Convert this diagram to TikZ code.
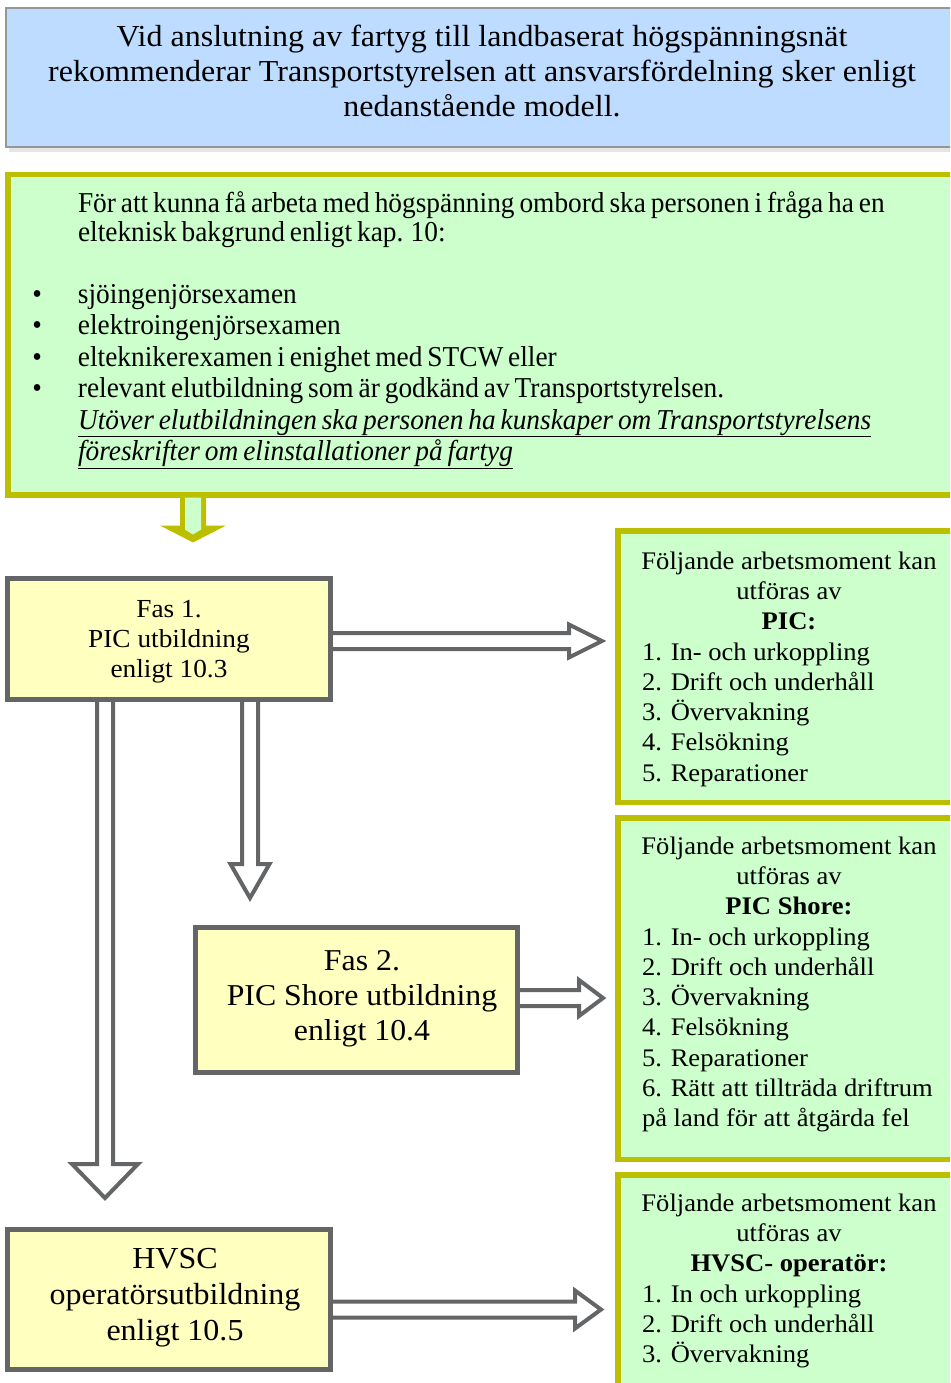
\documentclass[tikz,border=0pt]{standalone}
\usepackage{fontspec}
\setmainfont{Liberation Serif}[FakeStretch=1.05]
\newfontfamily\condserif{Liberation Serif}[FakeStretch=0.95]
\usetikzlibrary{calc}

\definecolor{skyfill}{RGB}{189,220,255}
\definecolor{skyline}{RGB}{150,150,150}
\definecolor{mintfill}{RGB}{204,255,204}
\definecolor{oliveline}{RGB}{187,191,0}
\definecolor{creamfill}{RGB}{255,255,192}
\definecolor{slate}{RGB}{100,101,103}

\newcommand\tightwords{\spaceskip=0.17em\relax}
\newcommand\headfont{\fontsize{30.5}{35}\selectfont}
\newcommand\reqfont{\condserif\fontsize{28.8}{29.5}\selectfont\tightwords}
\newcommand\reqlistfont{\condserif\fontsize{28.8}{31.5}\selectfont\tightwords}
\newcommand\taskfont{\fontsize{25.3}{30.3}\selectfont}
\newcommand\bulletmark{\llap{\textbullet\hspace{36pt}}}

% horizontal hollow block arrow: start, tip, head half-height, head length
\newcommand\hblock[4]{%
  \draw[hollow] ($(#1)+(0,-8)$) -- ($(#2)+(-#4,-8)$) -- ($(#2)+(-#4,-#3)$) -- (#2)
    -- ($(#2)+(-#4,#3)$) -- ($(#2)+(-#4,8)$) -- ($(#1)+(0,8)$);}
% vertical hollow block arrow (pointing down)
\newcommand\vblock[4]{%
  \draw[hollow] ($(#1)+(-8,0)$) -- ($(#2)+(-8,-#4)$) -- ($(#2)+(-#3,-#4)$) -- (#2)
    -- ($(#2)+(#3,-#4)$) -- ($(#2)+(8,-#4)$) -- ($(#1)+(8,0)$);}

\tikzset{
  headbox/.style={draw=skyline, line width=2pt, fill=skyfill, anchor=north west, inner sep=0pt},
  greenbox/.style={draw=oliveline, line width=5.5pt, fill=mintfill, anchor=north west, inner sep=0pt},
  stagebox/.style={draw=slate, line width=5pt, fill=creamfill, anchor=north west, inner sep=0pt},
  hollow/.style={draw=slate, line width=4pt, fill=white, line join=miter},
  txt/.style={inner sep=0pt, outer sep=0pt, anchor=base},
}

\begin{document}
\begin{tikzpicture}[x=1pt, y=-1pt]
\useasboundingbox (0,0) rectangle (950,1383);
\clip (0,0) rectangle (950,1383);

% heading panel (text nodes are placed at the baseline of their last line)
\fill[black!10] (9,11) rectangle (970,152);
\node[headbox, minimum width=958pt, minimum height=139pt] (head) at (5,7) {};
\node[txt, align=center, font=\headfont] (headtext) at (482,117)
  {Vid anslutning av fartyg till landbaserat högspänningsnät\\
   rekommenderar Transportstyrelsen att ansvarsfördelning sker enligt\\
   nedanstående modell.};

% requirements panel
\node[greenbox, minimum width=960pt, minimum height=320pt] (req) at (5,172) {};
\node[txt, anchor=base west, align=left, font=\reqfont] (reqintro) at (78,241.5)
  {För att kunna få arbeta med högspänning ombord ska personen i fråga ha en\\
   elteknisk bakgrund enligt kap. 10:};
\node[txt, anchor=base west, align=left, font=\reqlistfont] (reqlist) at (78,460.5)
  {\bulletmark sjöingenjörsexamen\\
   \bulletmark elektroingenjörsexamen\\
   \bulletmark elteknikerexamen i enighet med STCW eller\\
   \bulletmark relevant elutbildning som är godkänd av Transportstyrelsen.\\
   \underline{\textit{Utöver elutbildningen ska personen ha kunskaper om Transportstyrelsens}}\\
   \underline{\textit{föreskrifter om elinstallationer på fartyg}}};

% training stages
\node[stagebox, minimum width=323pt, minimum height=121pt] (fas1) at (5,576) {};
\node[txt, align=center, font=\fontsize{26}{30}\selectfont] (fas1text) at (169,677)
  {Fas 1.\\ PIC utbildning\\ enligt 10.3};
\node[stagebox, minimum width=322pt, minimum height=145pt] (fas2) at (193,925) {};
\node[txt, align=center, font=\fontsize{30.3}{35}\selectfont] (fas2text) at (362,1040)
  {Fas 2.\\ PIC Shore utbildning\\ enligt 10.4};
\node[stagebox, minimum width=323pt, minimum height=140pt] (hvsc) at (5,1227) {};
\node[txt, align=center, font=\fontsize{30.5}{36}\selectfont] (hvsctext) at (175,1340)
  {HVSC\\ operatörsutbildning\\ enligt 10.5};

% permitted tasks
\node[greenbox, minimum width=350pt, minimum height=271.5pt] (picA) at (615,528) {};
\node[txt, align=center, font=\taskfont] (picAhead) at (789,629.6)
  {Följande arbetsmoment kan\\ utföras av\\ \textbf{PIC:}};
\node[txt, anchor=base west, align=left, font=\taskfont] (picAlist) at (642,781.2)
  {1. In- och urkoppling\\ 2. Drift och underhåll\\ 3. Övervakning\\ 4. Felsökning\\ 5. Reparationer};

\node[greenbox, minimum width=350pt, minimum height=341.5pt] (picB) at (615,815) {};
\node[txt, align=center, font=\taskfont] (picBhead) at (789,914.6)
  {Följande arbetsmoment kan\\ utföras av\\ \textbf{PIC Shore:}};
\node[txt, anchor=base west, align=left, font=\taskfont] (picBlist) at (642,1126.8)
  {1. In- och urkoppling\\ 2. Drift och underhåll\\ 3. Övervakning\\ 4. Felsökning\\
   5. Reparationer\\ 6. Rätt att tillträda driftrum\\ på land för att åtgärda fel};

\node[greenbox, minimum width=350pt, minimum height=240pt] (picC) at (615,1172) {};
\node[txt, align=center, font=\taskfont] (picChead) at (789,1271.6)
  {Följande arbetsmoment kan\\ utföras av\\ \textbf{HVSC- operatör:}};
\node[txt, anchor=base west, align=left, font=\taskfont] (picClist) at (642,1362.6)
  {1. In och urkoppling\\ 2. Drift och underhåll\\ 3. Övervakning};

% feed arrow from the requirements panel
\coordinate (f0) at ($(req.south west)+(188,0)$);
\fill[oliveline] ($(f0)+(-13,0)$) -- ($(f0)+(-13,28)$) -- ($(f0)+(-33,28)$) -- ($(f0)+(0,45)$)
  -- ($(f0)+(33,28)$) -- ($(f0)+(13,28)$) -- ($(f0)+(13,0)$) -- cycle;
\fill[mintfill] ($(f0)+(-8,0)$) -- ($(f0)+(-8,32)$) -- ($(f0)+(0,37)$) -- ($(f0)+(8,32)$)
  -- ($(f0)+(8,0)$) -- cycle;

% stage arrows
\coordinate (a1s) at ($(fas1.east)+(0,2)$);
\coordinate (a1t) at ($(picA.west |- a1s)+(-13,0)$);
\hblock{a1s}{a1t}{16.5}{33}
\coordinate (a2s) at ($(fas2.east)+(0,-2)$);
\coordinate (a2t) at ($(picB.west |- a2s)+(-12,0)$);
\hblock{a2s}{a2t}{18}{24}
\coordinate (a3s) at ($(hvsc.east)+(0,10)$);
\coordinate (a3t) at ($(picC.west |- a3s)+(-14,0)$);
\hblock{a3s}{a3t}{19}{26}

\coordinate (d1s) at ($(fas1.south west)+(100,0)$);
\coordinate (d1t) at ($(hvsc.north west)+(100,-29)$);
\vblock{d1s}{d1t}{33}{34}
\coordinate (d2s) at ($(fas1.south west)+(245,0)$);
\coordinate (d2t) at ($(fas2.north west)+(57,-27)$);
\vblock{d2s}{d2t}{19.5}{34}
\end{tikzpicture}
\end{document}
